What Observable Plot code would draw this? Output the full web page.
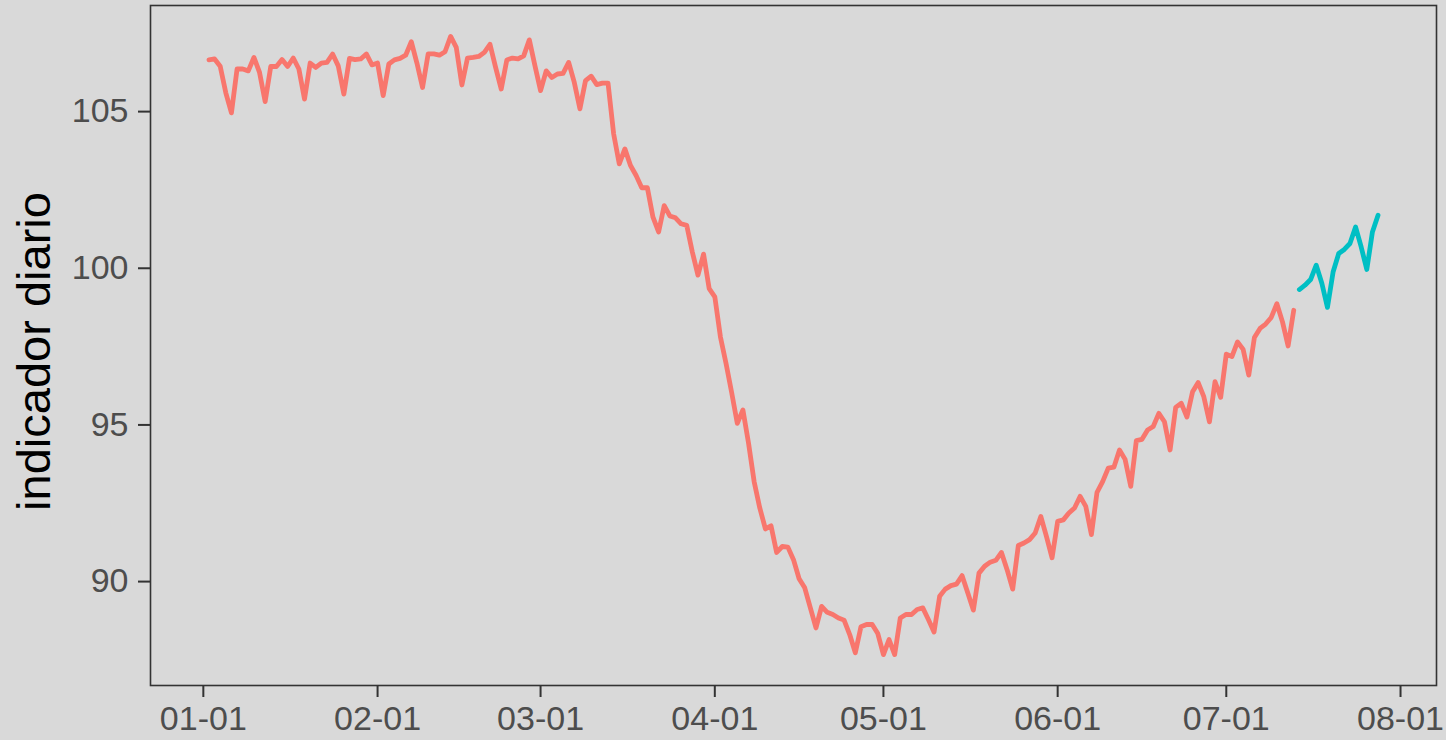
<!DOCTYPE html>
<html>
<head>
<meta charset="utf-8">
<script src="https://cdn.jsdelivr.net/npm/d3@7"></script>
<script src="https://cdn.jsdelivr.net/npm/@observablehq/plot@0.6"></script>
<style>
  html, body { margin: 0; padding: 0; background: #D9D9D9; }
  #chart { width: 1446px; height: 740px; }
</style>
</head>
<body>
<div id="chart"></div>
<script>
// ---- data ----
const yLabel = "indicador diario";
const redStart = "2020-01-02";
const cyanStart = "2020-07-14";
const redValues = [
  106.65,106.68,106.45,105.6,104.96,106.36,106.36,106.3,106.73,106.25,
  105.32,106.44,106.44,106.66,106.44,106.71,106.36,105.4,106.55,106.41,
  106.55,106.57,106.84,106.46,105.56,106.7,106.66,106.68,106.84,106.49,
  106.55,105.51,106.52,106.65,106.7,106.8,107.23,106.55,105.77,106.84,
  106.84,106.8,106.91,107.4,107.05,105.85,106.71,106.73,106.76,106.89,
  107.15,106.41,105.72,106.65,106.71,106.68,106.78,107.29,106.46,105.67,
  106.3,106.09,106.2,106.22,106.57,105.93,105.09,105.99,106.13,105.86,
  105.91,105.91,104.29,103.33,103.81,103.28,102.96,102.57,102.57,101.63,
  101.16,102.0,101.67,101.61,101.42,101.37,100.52,99.78,100.45,99.35,
  99.09,97.81,96.96,96.03,95.05,95.48,94.42,93.19,92.35,91.68,
  91.78,90.93,91.12,91.1,90.7,90.09,89.8,89.16,88.52,89.21,
  89.02,88.95,88.84,88.77,88.31,87.73,88.56,88.63,88.63,88.34,
  87.67,88.15,87.67,88.84,88.95,88.95,89.11,89.16,88.79,88.39,
  89.53,89.76,89.87,89.92,90.19,89.64,89.09,90.27,90.49,90.62,
  90.68,90.93,90.38,89.76,91.15,91.23,91.34,91.55,92.08,91.44,
  90.76,91.92,91.97,92.19,92.35,92.72,92.4,91.5,92.85,93.19,
  93.62,93.65,94.2,93.9,93.04,94.5,94.54,94.84,94.95,95.37,
  95.1,94.2,95.56,95.69,95.25,96.06,96.35,95.9,95.1,96.38,
  95.88,97.26,97.18,97.65,97.41,96.59,97.79,98.08,98.22,98.43,
  98.87,98.29,97.52,98.66
];
const cyanValues = [
  99.32,99.46,99.64,100.1,99.52,98.75,99.88,100.47,100.6,100.79,
  101.32,100.68,99.96,101.16,101.69
];
const xTickLabels = ["2020-01-01","2020-02-01","2020-03-01","2020-04-01","2020-05-01","2020-06-01","2020-07-01","2020-08-01"];
const yTicks = [90, 95, 100, 105];
const seriesColors = ["#F8766D", "#00BFC4"];

// ---- build table ----
function series(start, values, key) {
  const s = new Date(start + "T00:00:00Z");
  return values.map((v, i) => ({date: d3.utcDay.offset(s, i), value: v, series: key}));
}
const rows = [...series(redStart, redValues, "a"), ...series(cyanStart, cyanValues, "b")];

// ggplot-like 5% expansion
const xExt = d3.extent(rows, d => +d.date);
const xPad = (xExt[1] - xExt[0]) * 0.05;
const yExt = d3.extent(rows, d => d.value);
const yPad = (yExt[1] - yExt[0]) * 0.05;
const xTicks = xTickLabels.map(s => new Date(s + "T00:00:00Z"));

const chart = Plot.plot({
  width: 1446,
  height: 740,
  marginLeft: 150,
  marginRight: 10,
  marginTop: 5,
  marginBottom: 55,
  style: {background: "#D9D9D9", fontFamily: "'Liberation Sans', Arial, sans-serif"},
  x: {type: "utc", domain: [new Date(xExt[0] - xPad), new Date(xExt[1] + xPad)]},
  y: {domain: [yExt[0] - yPad, yExt[1] + yPad]},
  color: {domain: ["a", "b"], range: seriesColors},
  marks: [
    Plot.lineY(rows, {x: "date", y: "value", z: "series", stroke: "series", strokeWidth: 4.8, strokeLinejoin: "round"}),
    Plot.frame({stroke: "#333333", strokeWidth: 1.6}),
    Plot.axisY(yTicks, {tickSize: 12, tickPadding: 10, fontSize: 34, stroke: "#333333", strokeWidth: 2, fill: "#4D4D4D", label: null}),
    Plot.axisX(xTicks, {tickSize: 12, tickPadding: 8, fontSize: 34, stroke: "#333333", strokeWidth: 2, fill: "#4D4D4D", tickFormat: d3.utcFormat("%m-%d"), label: null}),
    Plot.text([yLabel], {text: d => d, frameAnchor: "left", textAnchor: "middle", rotate: -90, dx: -116, dy: 6, fontSize: 47, fill: "#000000"})
  ]
});
document.getElementById("chart").appendChild(chart);
</script>
</body>
</html>
